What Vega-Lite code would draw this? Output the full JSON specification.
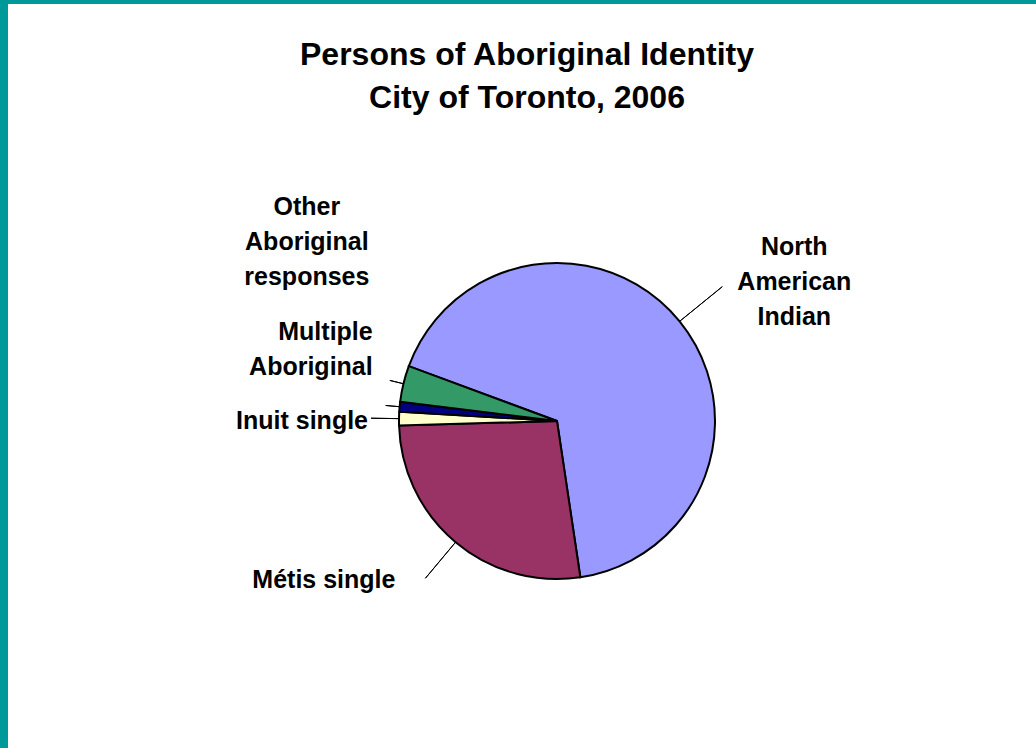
{
  "$schema": "https://vega.github.io/schema/vega-lite/v6.json",
  "autosize": {"type": "fit", "contains": "padding"},
  "width": 1036,
  "height": 748,
  "padding": {"left": 8, "top": 4, "right": 0, "bottom": 0},
  "background": "#009999",
  "view": {"fill": "white", "stroke": null},
  "config": {
    "view": {"fill": "white", "stroke": null},
    "font": "Liberation Sans"
  },
  "title": {
    "text": ["Persons of Aboriginal Identity", "City of Toronto, 2006"],
    "fontSize": 32,
    "fontWeight": "bold",
    "font": "Liberation Sans",
    "lineHeight": 43,
    "color": "black",
    "anchor": "middle",
    "offset": -111,
    "dx": 5
  },
  "data": {
    "values": [
      {"group": "North American Indian", "label": "North\nAmerican\nIndian", "value": 67.0, "order": 1},
      {"group": "Métis single", "label": "Métis single", "value": 26.9, "order": 2},
      {"group": "Inuit single", "label": "Inuit single", "value": 1.4, "order": 3},
      {"group": "Multiple Aboriginal", "label": "Multiple\nAboriginal", "value": 1.0, "order": 4},
      {"group": "Other Aboriginal responses", "label": "Other\nAboriginal\nresponses", "value": 3.7, "order": 5}
    ]
  },
  "transform": [
    {"stack": "value", "groupby": [], "sort": [{"field": "order", "order": "ascending"}], "as": ["v0", "v1"]},
    {"calculate": "(datum.v0 + datum.v1) / 2", "as": "mid"}
  ],
  "layer": [
    {
      "mark": {"type": "arc", "outerRadius": 158, "stroke": "black", "strokeWidth": 2, "x": {"expr": "width/2 + 35"}, "y": {"expr": "height/2 + 45"}},
      "encoding": {
        "theta": {"field": "v0", "type": "quantitative", "scale": {"domain": [0, 100], "range": [-1.2165, 5.0667]}},
        "theta2": {"field": "v1"},
        "color": {
          "field": "group", "type": "nominal", "legend": null,
          "scale": {
            "domain": ["North American Indian", "Métis single", "Inuit single", "Multiple Aboriginal", "Other Aboriginal responses"],
            "range": ["#9999FF", "#993366", "#FFFFCC", "#000080", "#339966"]
          }
        },
        "order": {"field": "order"}
      }
    },
    {
      "transform": [{"filter": "datum.group == 'North American Indian'"}],
      "mark": {"type": "arc", "innerRadius": 158, "outerRadius": 213, "stroke": "black", "strokeWidth": 1, "fill": null, "x": {"expr": "width/2 + 35"}, "y": {"expr": "height/2 + 45"}},
      "encoding": {"theta": {"field": "mid", "type": "quantitative"}, "theta2": {"field": "mid"}}
    },
    {
      "transform": [{"filter": "datum.group == 'Métis single'"}],
      "mark": {"type": "arc", "innerRadius": 158, "outerRadius": 205, "stroke": "black", "strokeWidth": 1, "fill": null, "x": {"expr": "width/2 + 35"}, "y": {"expr": "height/2 + 45"}},
      "encoding": {"theta": {"field": "mid", "type": "quantitative"}, "theta2": {"field": "mid"}}
    },
    {
      "transform": [{"filter": "datum.group == 'Inuit single'"}],
      "mark": {"type": "arc", "innerRadius": 158, "outerRadius": 186, "stroke": "black", "strokeWidth": 1, "fill": null, "x": {"expr": "width/2 + 35"}, "y": {"expr": "height/2 + 45"}},
      "encoding": {"theta": {"field": "mid", "type": "quantitative"}, "theta2": {"field": "mid"}}
    },
    {
      "transform": [{"filter": "datum.group == 'Multiple Aboriginal' || datum.group == 'Other Aboriginal responses'"}],
      "mark": {"type": "arc", "innerRadius": 158, "outerRadius": 172, "stroke": "black", "strokeWidth": 1, "fill": null, "x": {"expr": "width/2 + 35"}, "y": {"expr": "height/2 + 45"}},
      "encoding": {"theta": {"field": "mid", "type": "quantitative"}, "theta2": {"field": "mid"}}
    },
    {
      "transform": [{"filter": "datum.group == 'North American Indian'"}],
      "mark": {"type": "text", "radius": 213, "align": "center", "baseline": "middle", "dx": 72, "dy": -40, "fontSize": 25, "fontWeight": "bold", "lineHeight": 35, "lineBreak": "\n", "color": "black", "x": {"expr": "width/2 + 35"}, "y": {"expr": "height/2 + 45"}},
      "encoding": {"theta": {"field": "mid", "type": "quantitative"}, "text": {"field": "label"}}
    },
    {
      "transform": [{"filter": "datum.group == 'Métis single'"}],
      "mark": {"type": "text", "radius": 205, "align": "right", "baseline": "middle", "dx": -30, "dy": 2, "fontSize": 25, "fontWeight": "bold", "lineHeight": 35, "lineBreak": "\n", "color": "black", "x": {"expr": "width/2 + 35"}, "y": {"expr": "height/2 + 45"}},
      "encoding": {"theta": {"field": "mid", "type": "quantitative"}, "text": {"field": "label"}}
    },
    {
      "transform": [{"filter": "datum.group == 'Inuit single'"}],
      "mark": {"type": "text", "radius": 186, "align": "right", "baseline": "middle", "dx": -3, "dy": 3, "fontSize": 25, "fontWeight": "bold", "lineHeight": 35, "lineBreak": "\n", "color": "black", "x": {"expr": "width/2 + 35"}, "y": {"expr": "height/2 + 45"}},
      "encoding": {"theta": {"field": "mid", "type": "quantitative"}, "text": {"field": "label"}}
    },
    {
      "transform": [{"filter": "datum.group == 'Multiple Aboriginal'"}],
      "mark": {"type": "text", "radius": 172, "align": "right", "baseline": "middle", "dx": -13, "dy": -73, "fontSize": 25, "fontWeight": "bold", "lineHeight": 35, "lineBreak": "\n", "color": "black", "x": {"expr": "width/2 + 35"}, "y": {"expr": "height/2 + 45"}},
      "encoding": {"theta": {"field": "mid", "type": "quantitative"}, "text": {"field": "label"}}
    },
    {
      "transform": [{"filter": "datum.group == 'Other Aboriginal responses'"}],
      "mark": {"type": "text", "radius": 172, "align": "center", "baseline": "middle", "dx": -83, "dy": -173, "fontSize": 25, "fontWeight": "bold", "lineHeight": 35, "lineBreak": "\n", "color": "black", "x": {"expr": "width/2 + 35"}, "y": {"expr": "height/2 + 45"}},
      "encoding": {"theta": {"field": "mid", "type": "quantitative"}, "text": {"field": "label"}}
    }
  ]
}
